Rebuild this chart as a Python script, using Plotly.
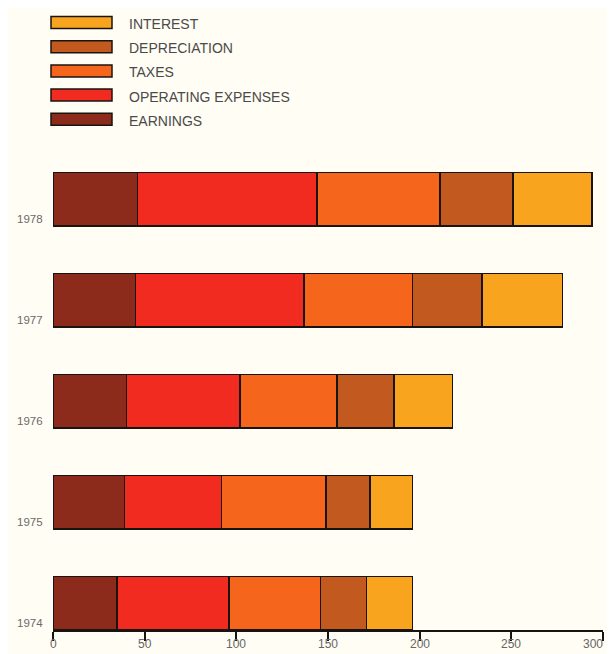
import plotly.graph_objects as go

years = ["1974", "1975", "1976", "1977", "1978"]
earnings = [35, 39, 40, 45, 46]
operating = [61, 53, 62, 92, 98]
taxes = [50, 57, 53, 59, 67]
depreciation = [25, 24, 31, 38, 40]
interest = [25, 23, 32, 44, 43]

series_names = ["EARNINGS", "OPERATING EXPENSES", "TAXES", "DEPRECIATION", "INTEREST"]
series_values = [earnings, operating, taxes, depreciation, interest]
colors = ["#8c2a1c", "#f22b20", "#f5651c", "#c25a20", "#f8a41e"]

x_ticks = [0, 50, 100, 150, 200, 250, 300]

OFF = 8  # page body margin
W, H = 615 - OFF, 654 - OFF
L, T = 53 - OFF, 149 - OFF
R = W - (603 - OFF)
B = H - (630 - OFF)
pw, ph = W - L - R, H - T - B

def px2x(p):
    return (p - OFF - L) / pw

def py2y(p):
    return (H - B - (p - OFF)) / ph

fig = go.Figure()
ypos = list(range(len(years)))
for name, vals, col in zip(series_names, series_values, colors):
    fig.add_trace(go.Bar(
        y=ypos, x=vals, orientation="h", name=name,
        marker=dict(color=col, line=dict(color="#1a1410", width=1.5)),
        width=0.53, showlegend=False,
    ))

shapes = []
annotations = []
for i, (name, col) in enumerate(zip(series_names[::-1], colors[::-1])):
    cy = 22.5 + i * 24.2
    shapes.append(dict(type="rect", xref="paper", yref="paper",
                       x0=px2x(51), x1=px2x(112), y0=py2y(cy - 6), y1=py2y(cy + 6),
                       fillcolor=col, line=dict(color="#1a1410", width=1.5)))
    annotations.append(dict(xref="paper", yref="paper", x=px2x(127), y=py2y(cy + 1.5),
                            text=name, showarrow=False, xanchor="left", yanchor="middle",
                            font=dict(size=14, color="#4a4a4a", family="Liberation Sans")))

for i, yr in enumerate(years):
    annotations.append(dict(xref="paper", yref="y", x=0, y=i - 0.265, xshift=-8, yshift=-1,
                            text=yr, showarrow=False, xanchor="right", yanchor="bottom",
                            font=dict(size=11.5, color="#6a6a6a", family="Liberation Sans")))

# x tick labels (placed to stay inside the window)
for j, v in enumerate(x_ticks):
    last = j == len(x_ticks) - 1
    annotations.append(dict(xref="x", yref="paper", x=v, y=py2y(654), yshift=1,
                            xshift=2 if last else 0,
                            text=str(v), showarrow=False,
                            xanchor="right" if last else "center", yanchor="bottom",
                            font=dict(size=12, color="#666666", family="Liberation Sans")))

fig.update_layout(
    barmode="stack",
    width=W, height=H,
    margin=dict(l=L, r=R, t=T, b=B, pad=0, autoexpand=False),
    paper_bgcolor="#fffdf4", plot_bgcolor="#fffdf4",
    shapes=shapes, annotations=annotations,
    xaxis=dict(range=[0, 300], tickvals=x_ticks, showticklabels=False,
               automargin=False,
               showgrid=False, zeroline=False, showline=True, linecolor="#1a1410", linewidth=1.5,
               ticks="outside", ticklen=9, tickwidth=1.5, tickcolor="#1a1410"),
    yaxis=dict(range=[-0.265, 4.5], automargin=False, showgrid=False, zeroline=False,
               showticklabels=False, showline=False),
)

fig.write_html("out.html")
